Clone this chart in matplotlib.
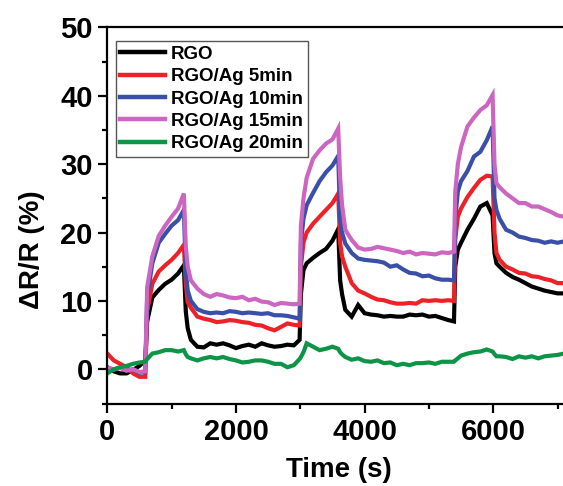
import matplotlib
matplotlib.use("Agg")
import matplotlib.pyplot as plt
from matplotlib.ticker import MultipleLocator

# ---- data ----
time_s = ([0, 100, 200, 300, 400, 500, 590,
           620, 700, 800, 900, 1000, 1100, 1190,
           1220, 1250, 1300]
          + list(range(1400, 3000, 100)) + [2990,
           3010, 3050, 3100, 3200, 3300, 3400, 3500, 3590,
           3620, 3650, 3700]
          + list(range(3800, 5400, 100)) + [5390,
           5410, 5450, 5500, 5600, 5700, 5800, 5900, 5990,
           6020, 6050, 6100]
          + list(range(6200, 7200, 100)))

rgo = [0.3, -0.3, -0.6, -0.6, -0.1, 0.5, 1.3,
       7.0, 10.5, 11.6, 12.5, 13.1, 14.0, 15.2,
       8.5, 6.0, 4.3,
       3.3, 3.2, 3.8, 3.6, 3.8, 3.5, 3.1, 3.4, 3.6, 3.3, 3.8, 3.5, 3.3, 3.4, 3.6, 3.5,
       4.3,
       11.0, 14.5, 15.5, 16.3, 17.0, 17.6, 18.8, 20.5,
       13.0, 11.0, 8.7,
       7.7, 9.4, 8.2, 8.0, 7.9, 7.7, 7.8, 7.7, 7.7, 8.0, 7.9, 8.0, 7.7, 7.8, 7.5, 7.2,
       7.0,
       15.0, 17.5, 18.5, 20.4, 22.0, 23.8, 24.3, 22.5,
       17.0, 15.5, 15.0,
       14.1, 13.5, 13.1, 12.6, 12.1, 11.8, 11.5, 11.3, 11.1, 11.1]

ag5 = [2.3, 1.3, 0.8, 0.3, -0.6, -1.1, -1.1,
       8.5, 12.5, 14.3, 15.2, 16.0, 17.0, 18.2,
       12.5, 9.8, 9.0,
       7.7, 7.4, 7.2, 6.9, 7.0, 7.2, 7.1, 6.9, 6.8, 6.5, 6.4, 6.0, 5.7, 6.2, 6.7, 6.5,
       6.4,
       15.0, 18.5, 20.0, 21.3, 22.3, 23.3, 24.3, 25.7,
       18.5, 16.5, 15.0,
       12.6, 11.5, 11.1, 10.6, 10.2, 10.1, 9.8, 9.6, 9.6, 9.7, 9.6, 10.1, 10.0, 10.1, 10.0, 10.1,
       10.0,
       19.0, 22.3, 23.5, 25.2, 26.5, 27.7, 28.3, 28.2,
       20.0, 17.0, 16.0,
       15.0, 14.6, 14.1, 14.0, 13.6, 13.5, 13.2, 13.0, 12.6, 12.6]

ag10 = [0.2, -0.1, 0.3, -0.2, 0.0, -0.5, -0.4,
        10.5, 15.5, 18.5, 19.8, 21.0, 21.8, 23.3,
        14.5, 11.5, 10.0,
        8.8, 8.4, 8.2, 8.3, 8.2, 8.5, 8.4, 8.2, 8.3, 8.2, 8.1, 8.2, 7.9, 7.9, 7.8, 7.6,
        7.4,
        18.5, 22.0, 24.0, 25.8, 27.5, 28.8, 29.8, 31.2,
        22.0, 20.0, 18.4,
        17.0, 16.2, 16.0, 15.9, 15.8, 15.6, 15.0, 15.2, 14.6, 14.1, 14.0, 13.6, 13.7, 13.3, 13.1, 13.1,
        13.0,
        22.0, 26.0, 27.5, 29.0, 31.1, 31.8, 33.5, 35.5,
        25.0, 23.3, 22.0,
        20.4, 20.0, 19.4, 19.2, 18.9, 18.8, 18.5, 18.7, 18.5, 18.7]

ag15 = [0.3, 0.0, 0.2, -0.2, 0.0, -0.4, -0.3,
        12.0, 16.5, 19.5, 21.0, 22.3, 23.5, 25.7,
        18.0, 15.0, 13.0,
        11.8, 11.0, 10.6, 11.0, 10.8, 10.5, 10.4, 10.6, 10.1, 10.3, 9.9, 9.8, 9.4, 9.7, 9.6, 9.5,
        9.6,
        21.0, 25.0, 28.0, 30.8, 32.0, 33.0, 33.6, 35.2,
        28.0, 24.0, 20.4,
        18.9, 17.8, 17.5, 17.6, 17.9, 17.7, 17.5, 17.3, 17.0, 17.2, 16.8, 17.0, 16.9, 16.8, 17.1, 17.0,
        17.2,
        26.0, 30.0, 32.5, 35.5, 36.8, 37.9, 38.6, 40.1,
        30.0, 27.2, 26.6,
        25.7, 25.0, 24.3, 24.3, 23.8, 23.8, 23.4, 23.0, 22.5, 22.3]

ag20 = [-0.6, 0.0, 0.3, 0.5, 0.8, 1.0, 1.1,
        1.5, 2.3, 2.5, 2.8, 2.8, 2.6, 2.8,
        2.2, 1.8, 1.6,
        1.3, 1.6, 1.8, 1.6, 1.8, 1.5, 1.3, 1.0, 1.1, 1.3, 1.3, 1.1, 0.8, 0.8, 0.3, 0.6,
        1.5,
        1.8, 2.5, 3.8, 3.3, 2.8, 3.0, 3.3, 3.0,
        2.5, 2.2, 1.8,
        1.4, 1.6, 1.2, 1.1, 1.3, 0.9, 1.0, 0.6, 0.8, 0.6, 0.9, 0.9, 1.0, 0.8, 1.1, 1.1,
        1.1,
        1.3, 1.6, 2.0, 2.3, 2.5, 2.6, 2.9, 2.6,
        2.2, 1.9, 1.9,
        1.8, 1.5, 1.9, 1.7, 1.9, 1.6, 1.9, 2.0, 2.1, 2.3]

labels = ["RGO", "RGO/Ag 5min", "RGO/Ag 10min", "RGO/Ag 15min", "RGO/Ag 20min"]
colors = ["#000000", "#ED2228", "#3A50A8", "#CC66C0", "#0E9447"]
series = [rgo, ag5, ag10, ag15, ag20]

# ---- figure ----
plt.rcParams['font.family'] = ['Liberation Sans', 'DejaVu Sans']
plt.rcParams['font.weight'] = 'bold'

W, H = 563, 486
fig = plt.figure(figsize=(W / 100, H / 100), dpi=100)
left, right, top, bottom = 107.3, 563.0, 27.3, 403.5
ax = fig.add_axes([left / W, 1 - bottom / H, (right - left) / W, (bottom - top) / H])

for ys, c, lab in zip(series, colors, labels):
    assert len(ys) == len(time_s)
    ax.plot(time_s, ys, color=c, lw=3.0, label=lab, solid_joinstyle='miter')

ax.set_xlim(0, 7085)
ax.set_ylim(-5, 50)
ax.xaxis.set_major_locator(MultipleLocator(2000))
ax.xaxis.set_minor_locator(MultipleLocator(1000))
ax.yaxis.set_major_locator(MultipleLocator(10))
ax.yaxis.set_minor_locator(MultipleLocator(5))

for s in ['left', 'bottom', 'top']:
    ax.spines[s].set_linewidth(1.6)
ax.spines['right'].set_visible(False)

ax.tick_params(which='major', direction='out', length=6.5, width=1.6,
               labelsize=21, pad=4, top=False, right=False)
ax.tick_params(which='minor', direction='out', length=3.5, width=1.6,
               top=False, right=False)
for t in ax.get_xticklabels() + ax.get_yticklabels():
    t.set_fontweight('bold')

fig.text(32 / W, 1 - 250 / H, "ΔR/R (%)", rotation=90, ha='center', va='center',
         fontsize=20, fontweight='bold')
fig.text(338.5 / W, 1 - 470 / H, "Time (s)", ha='center', va='center',
         fontsize=20, fontweight='bold')

leg = ax.legend(loc='upper left', bbox_to_anchor=(115.7 / W, 1 - 41 / H),
                bbox_transform=fig.transFigure,
                prop={'weight': 'bold', 'size': 13.5},
                frameon=True, fancybox=False, framealpha=1,
                handlelength=2.4, handletextpad=0.3, borderpad=0.25,
                labelspacing=0.28, borderaxespad=0)
leg.get_frame().set_edgecolor('#555555')
leg.get_frame().set_linewidth(1.0)
for h in leg.get_lines():
    h.set_linewidth(3.2)

fig.savefig("out.png", dpi=100)
